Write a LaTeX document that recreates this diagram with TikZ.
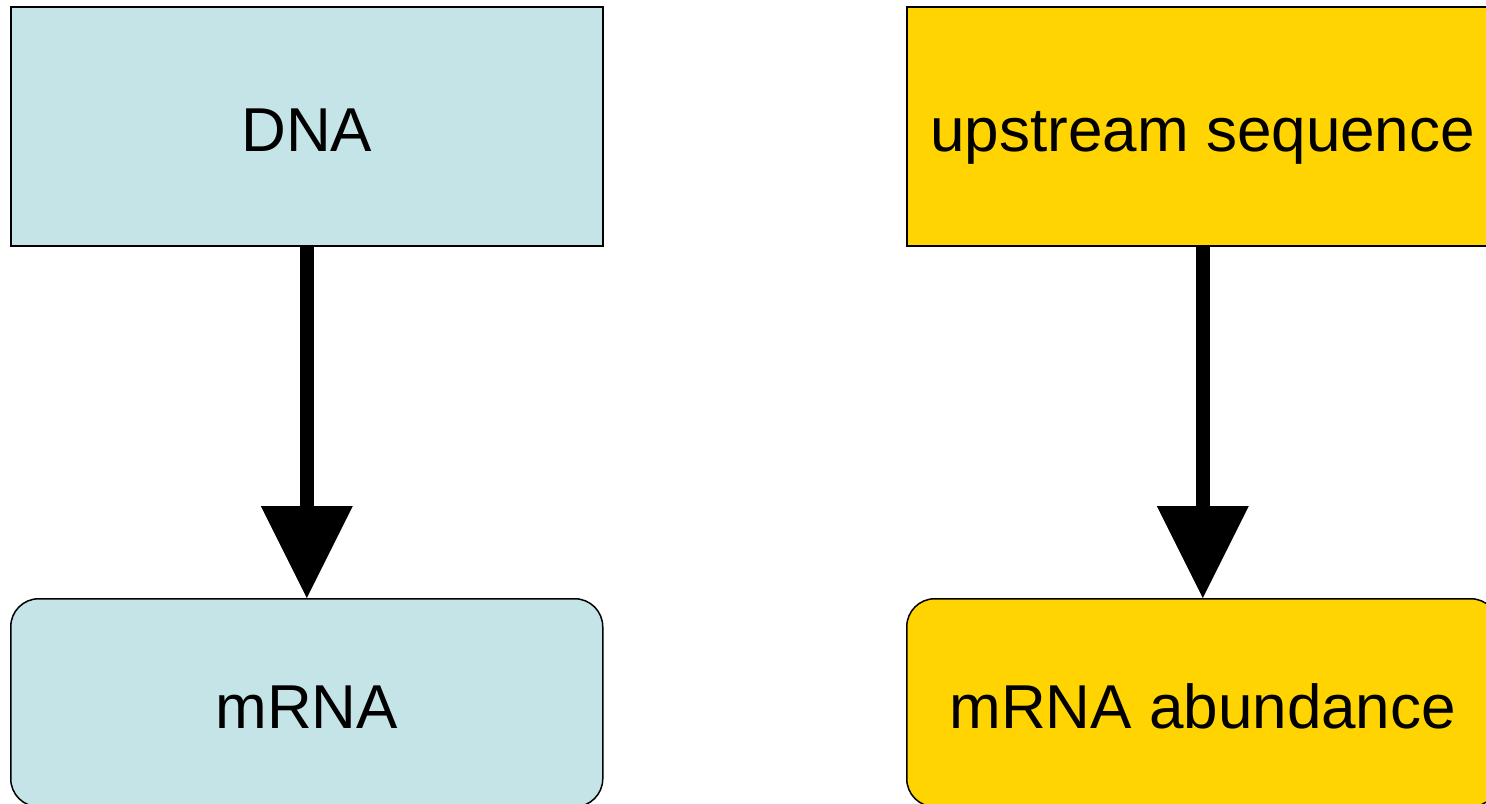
\documentclass[tikz,border=0pt]{standalone}
\usepackage{fontspec}
\setmainfont{Liberation Sans}
\usetikzlibrary{arrows.meta}
\definecolor{dnablue}{RGB}{197,228,232}
\definecolor{seqyellow}{RGB}{255,212,0}
\tikzset{
  box/.style={draw=black, line width=0.75pt, inner sep=0pt, anchor=north west,
    font=\fontsize{31}{36}\selectfont, text=black,
    text height=22pt, text depth=0pt},
  sharpbox/.style={box},
  roundbox/.style={box, rounded corners=14pt},
  flow/.style={line width=7pt, draw=black,
    -{Triangle[length=46pt, width=46pt, line width=0pt]}},
}
\begin{document}
\begin{tikzpicture}[x=0.5pt, y=-0.5pt]
  \useasboundingbox (0,0) rectangle (1486,803);
  \clip (0,0) rectangle (1486,803);
  % left column: DNA -> mRNA
  \node[sharpbox, fill=dnablue, minimum width=296pt, minimum height=119.5pt]
    (dna) at (10,6) {\raisebox{-1.6pt}{DNA}};
  \node[roundbox, fill=dnablue, minimum width=296pt, minimum height=104pt]
    (mrna) at (10,598) {\raisebox{-1.8pt}{mRNA}};
  % right column: upstream sequence -> mRNA abundance
  \node[sharpbox, fill=seqyellow, minimum width=296pt, minimum height=119.5pt]
    (seq) at (906,6) {\raisebox{-1.6pt}{upstream sequence}};
  \node[roundbox, fill=seqyellow, minimum width=296pt, minimum height=104pt]
    (abund) at (906,598) {\raisebox{-1.8pt}{mRNA abundance}};
  % connectors
  \draw[flow] (dna.south) -- (mrna.north);
  \draw[flow] (seq.south) -- (abund.north);
\end{tikzpicture}
\end{document}
